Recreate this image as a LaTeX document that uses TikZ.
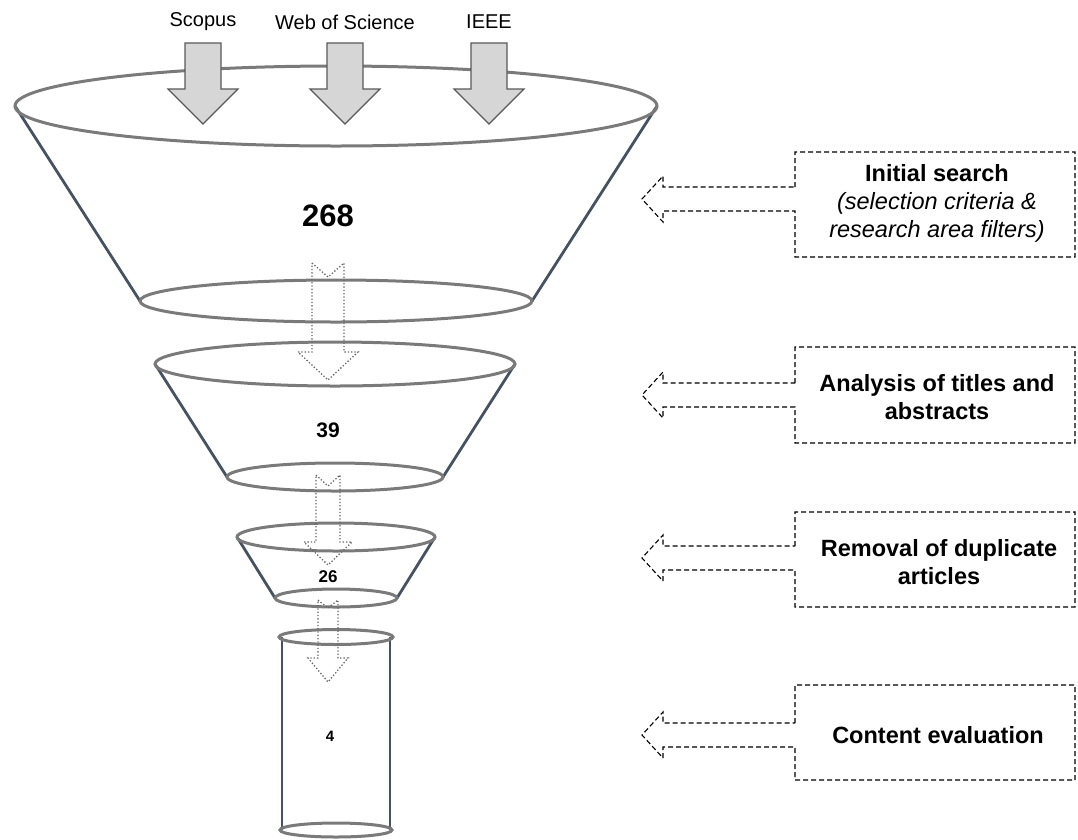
\documentclass[tikz,border=0pt]{standalone}
\usepackage{fontspec}
\setmainfont{Liberation Sans}
\usetikzlibrary{positioning}
\definecolor{rimGray}{gray}{0.48}
\definecolor{sideBlue}{RGB}{70,82,96}
\definecolor{srcFill}{gray}{0.84}
\definecolor{srcLine}{gray}{0.35}
\tikzset{
  rim/.style={rimGray, line width=3pt},
  side/.style={sideBlue, line width=2.8pt},
  srcarrow/.style={fill=srcFill, draw=srcLine, line width=1.1pt},
  flowarrow/.style={gray!80!black, dotted, line width=1.3pt},
  stagebox/.style={black, dash pattern=on 5pt off 3pt, line width=1.1pt},
  srclabel/.style={font=\fontsize{20}{24}\selectfont},
  stagetext/.style={align=center, font=\fontsize{23.5}{28}\selectfont}
}

\begin{document}
\begin{tikzpicture}[x=1pt, y=-1pt]
    \useasboundingbox (0,0) rectangle (1078,839);

    % funnel 1
    \draw[side] (15,106) -- (140,301) (657,106) -- (532,301);
    \draw[rim] (336,106) ellipse [x radius=321pt, y radius=40pt];
    \draw[rim] (336,301) ellipse [x radius=196pt, y radius=21pt];
    % funnel 2
    \draw[side] (155,364) -- (227,477) (515,364) -- (443,477);
    \draw[rim] (335,364) ellipse [x radius=180pt, y radius=22pt];
    \draw[rim] (335,477) ellipse [x radius=108pt, y radius=14pt];
    % funnel 3
    \draw[side] (237,537) -- (275,598) (435,537) -- (397,598);
    \draw[rim] (336,537) ellipse [x radius=99pt, y radius=14pt];
    \draw[rim] (336,598) ellipse [x radius=61pt, y radius=9pt];
    % cylinder
    \draw[side] (282,637) -- (282,830) (390,637) -- (390,830);
    \draw[rim] (336,637) ellipse [x radius=57pt, y radius=7.5pt];
    \draw[rim] (336,830) ellipse [x radius=56pt, y radius=7pt];

    % sources
    \foreach \x/\name/\lab in {203/scopus/Scopus, 345/wos/Web of Science, 489/ieee/IEEE} {
        \node[srclabel] (\name) at (\x,22) {\lab};
        \draw[srcarrow] (\x-18,43) -- (\x+18,43) -- (\x+18,89) -- (\x+35,89)
            -- (\x,124) -- (\x-35,89) -- (\x-18,89) -- cycle;
    }

    % flow between stages
    \foreach \top/\notch/\hw/\wy/\wh/\tip in {263/14/16/352/30/380, 475/11/12/542/24/565, 600/8/10/658/20/682} {
        \draw[flowarrow] (328-\hw,\top) -- (328,\top+\notch) -- (328+\hw,\top) -- (328+\hw,\wy)
            -- (328+\wh,\wy) -- (328,\tip) -- (328-\wh,\wy) -- (328-\hw,\wy) -- cycle;
    }

    \node[font=\fontsize{31}{36}\selectfont\bfseries] (n268) at (328,216) {268};
    \node[font=\fontsize{21}{25}\selectfont\bfseries] (n39) at (328,430) {39};
    \node[font=\fontsize{17}{20}\selectfont\bfseries] (n26) at (328,577) {26};
    \node[font=\fontsize{15}{18}\selectfont\bfseries] (n4) at (330,736) {4};

    % stage boxes
    \foreach \top/\bot/\m in {152/257/199, 347/443/395, 512/607/558, 685/780/735} {
        \draw[stagebox] (795,\m-12) -- (795,\top) -- (1075,\top) -- (1075,\bot) -- (795,\bot)
            -- (795,\m+12) -- (663,\m+12) -- (663,\m+23) -- (642,\m) -- (663,\m-23)
            -- (663,\m-12) -- cycle;
    }

    \node[stagetext] (init) at (937,203) {\bfseries Initial search\\
        \itshape (selection criteria \&\\ \itshape research area filters)};
    \node[stagetext] (titles) at (937,397) {\bfseries Analysis of titles and\\ \bfseries abstracts};
    \node[stagetext] (dupes) at (939,562) {\bfseries Removal of duplicate\\ \bfseries articles};
    \node[stagetext] (content) at (938,735) {\bfseries Content evaluation};
\end{tikzpicture}
\end{document}
